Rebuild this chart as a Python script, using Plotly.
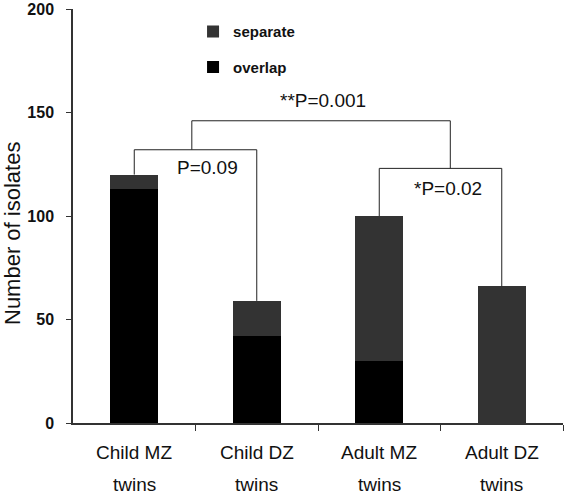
import plotly.graph_objects as go

categories = ["Child MZ", "Child DZ", "Adult MZ", "Adult DZ"]
cat_line2 = ["twins", "twins", "twins", "twins"]
overlap = [113, 42, 30, 0]
separate = [7, 17, 70, 66]
y_ticks = [0, 50, 100, 150, 200]

# comparison brackets: (left bar, right bar, bracket level, label, label x, label y)
sub_brackets = [
    (0, 1, 132, "P=0.09", 0.60, 123.5),
    (2, 3, 123, "*P=0.02", 2.56, 113.5),
]
# top bracket: (left x, right x, level, left leg bottom, right leg bottom, label, label x, label y)
top_bracket = (0.47, 2.58, 146, 132, 123, "**P=0.001", 1.54, 156)

FONT = "Liberation Sans, Arial, sans-serif"
TXT = "#111111"

x = list(range(len(categories)))
fig = go.Figure()
fig.add_bar(x=x, y=overlap, name="overlap", marker_color="#000000",
            marker_line_width=0, width=0.39, legendgroup="a", legendrank=2)
fig.add_bar(x=x, y=separate, name="separate", marker_color="#333333",
            marker_line_width=0, width=0.39, legendgroup="b", legendrank=1)

totals = [o + s for o, s in zip(overlap, separate)]
line = dict(color="#222222", width=1)
for (i, j, lvl, txt, tx, ty) in sub_brackets:
    fig.add_shape(type="line", x0=i, x1=i, y0=totals[i], y1=lvl, xref="x", yref="y", line=line)
    fig.add_shape(type="line", x0=i, x1=j, y0=lvl, y1=lvl, xref="x", yref="y", line=line)
    fig.add_shape(type="line", x0=j, x1=j, y0=totals[j], y1=lvl, xref="x", yref="y", line=line)
    fig.add_annotation(x=tx, y=ty, text=txt, showarrow=False, xref="x", yref="y",
                       font=dict(size=19, color=TXT))
lx, rx, lvl, lb, rb, txt, tx, ty = top_bracket
fig.add_shape(type="line", x0=lx, x1=lx, y0=lb, y1=lvl, xref="x", yref="y", line=line)
fig.add_shape(type="line", x0=lx, x1=rx, y0=lvl, y1=lvl, xref="x", yref="y", line=line)
fig.add_shape(type="line", x0=rx, x1=rx, y0=rb, y1=lvl, xref="x", yref="y", line=line)
fig.add_annotation(x=tx, y=ty, text=txt, showarrow=False, xref="x", yref="y",
                   font=dict(size=19, color=TXT))

for xi, l1, l2 in zip(x, categories, cat_line2):
    fig.add_annotation(x=xi, y=0, yref="paper", xref="x", text=l1, showarrow=False,
                       yshift=-29, yanchor="middle", font=dict(size=19, color=TXT))
    fig.add_annotation(x=xi, y=0, yref="paper", xref="x", text=l2, showarrow=False,
                       yshift=-61, yanchor="middle", borderpad=0, font=dict(size=19, color=TXT))

fig.add_annotation(x=0, y=0.5, xref="paper", yref="paper", xshift=-61, yshift=-18,
                   text="Number of isolates", textangle=-90, showarrow=False,
                   xanchor="center", yanchor="middle", font=dict(size=22, color=TXT))

fig.update_layout(
    barmode="stack",
    width=566, height=495,
    margin=dict(l=73, r=3, t=9, b=72, autoexpand=False),
    plot_bgcolor="white", paper_bgcolor="white",
    font=dict(family=FONT, color=TXT),
    showlegend=True,
    legend=dict(x=0.245, y=0.985, xanchor="left", yanchor="top",
                traceorder="grouped", tracegroupgap=13,
                font=dict(size=15, color=TXT, weight="bold"),
                bgcolor="rgba(0,0,0,0)", itemwidth=30),
    xaxis=dict(range=[-0.5, 3.5], tickvals=[0.5, 1.5, 2.5, 3.5], showticklabels=False,
               ticks="outside", ticklen=6, tickcolor="#333333", automargin=False,
               showline=True, linecolor="#333333", linewidth=1.5, showgrid=False, zeroline=False),
    yaxis=dict(range=[0, 200], tickvals=y_ticks, ticks="outside", ticklen=5, automargin=False,
               tickcolor="#333333", showline=True, linecolor="#333333", linewidth=1.5,
               showgrid=False, zeroline=False, ticklabelstandoff=9,
               tickfont=dict(size=16, color=TXT, weight="bold")),
)

fig.write_html("out.html", config={"displayModeBar": False},
               post_script="document.body.style.margin='0';document.body.style.overflow='hidden';")
